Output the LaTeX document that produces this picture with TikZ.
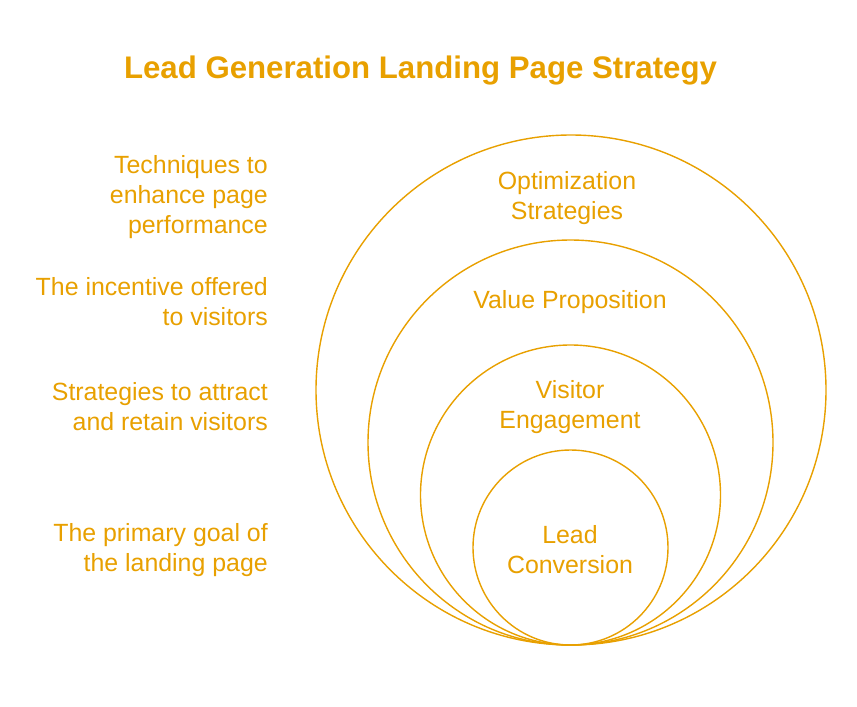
\documentclass[tikz,border=0pt]{standalone}
\usepackage{fontspec}
\setmainfont{Liberation Sans}
\definecolor{gold}{RGB}{232,160,0}
\begin{document}
\begin{tikzpicture}[x=1pt,y=-1pt,
  ring/.style={draw=gold,line width=1.4pt},
  lbl/.style={text=gold,font=\fontsize{24.9}{30}\selectfont,align=right,anchor=east,inner sep=0pt},
  inlbl/.style={text=gold,font=\fontsize{24.9}{30}\selectfont,align=center,inner sep=0pt},
  ttl/.style={text=gold,font=\fontsize{31.2}{36}\selectfont\bfseries,inner sep=0pt}]
\useasboundingbox (0,0) rectangle (857,707);
\node[ttl] (title) at (420.5,70) {Lead Generation Landing Page Strategy};
\draw[ring] (571,390) circle (255);
\draw[ring] (570.5,442.5) circle (202.5);
\draw[ring] (570.5,495) circle (150);
\draw[ring] (570.5,547.5) circle (97.5);
\node[inlbl] (c1) at (567,198) {Optimization\\Strategies};
\node[inlbl] (c2) at (570,302) {Value Proposition};
\node[inlbl] (c3) at (570,407) {Visitor\\Engagement};
\node[inlbl] (c4) at (570,550) {Lead\\Conversion};
\node[lbl] (l1) at (268,197) {Techniques to\\enhance page\\performance};
\node[lbl] (l2) at (268,302) {The incentive offered\\to visitors};
\node[lbl] (l3) at (268,407) {Strategies to attract\\and retain visitors};
\node[lbl] (l4) at (268,550) {The primary goal of\\the landing page};
\end{tikzpicture}
\end{document}
